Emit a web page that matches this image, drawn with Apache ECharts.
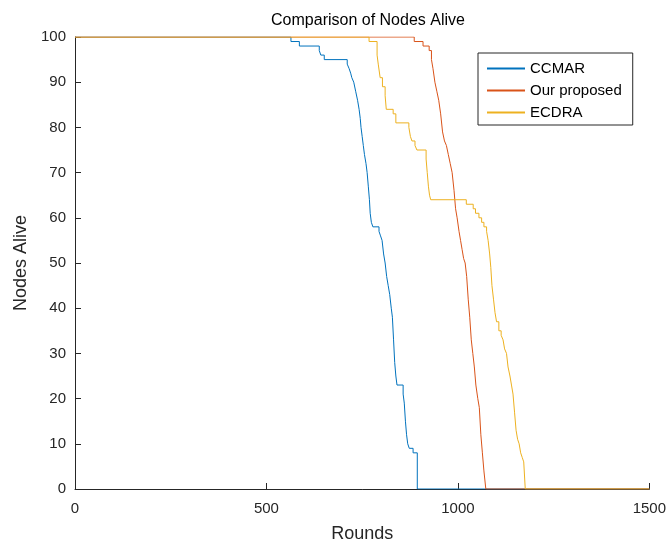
<!DOCTYPE html>
<html>
<head>
<meta charset="utf-8">
<title>Comparison of Nodes Alive</title>
<script src="https://cdn.jsdelivr.net/npm/echarts@6/dist/echarts.min.js"></script>
<style>
  html, body { margin: 0; padding: 0; background: #ffffff; }
  #chart { width: 669px; height: 548px; }
</style>
</head>
<body>
<div id="chart"></div>
<script>
// Nodes alive per round; each pair marks the round where the count changes.
const ccmarRounds = [0, 564, 586, 638, 642, 651, 711, 716, 720, 723, 728, 733, 738, 742, 745, 747, 750, 753, 756, 760, 763, 766, 769, 771, 774, 778, 794, 798, 802, 806, 810, 814, 818, 822, 826, 829, 832, 835, 838, 841, 857, 860, 863, 866, 869, 873, 883, 894, 1500];
const ccmarAlive  = [100, 99, 98, 97, 96, 95, 94, 93, 92, 91, 90, 88, 86, 84, 82, 80, 78, 76, 74, 72, 70, 67, 64, 61, 59, 58, 57, 56, 55, 52, 50, 47, 45, 43, 40, 38, 33, 28, 25, 23, 21, 19, 15, 12, 10, 9, 8, 0, 0];

const proposedRounds = [0, 886, 909, 925, 931, 935, 940, 945, 950, 955, 960, 965, 970, 975, 980, 985, 990, 994, 998, 1003, 1007, 1011, 1015, 1019, 1023, 1027, 1031, 1035, 1039, 1043, 1047, 1052, 1056, 1060, 1064, 1068, 1073, 1500];
const proposedAlive  = [100, 99, 98, 97, 95, 93, 90, 88, 86, 83, 79, 77, 76, 74, 72, 70, 66, 62, 60, 57, 55, 53, 51, 50, 47, 42, 38, 33, 30, 27, 23, 20, 18, 12, 8, 4, 0, 0];

const ecdraRounds = [0, 768, 789, 792, 797, 803, 810, 813, 831, 838, 872, 876, 880, 888, 893, 917, 920, 923, 926, 929, 1022, 1040, 1046, 1055, 1062, 1068, 1075, 1079, 1083, 1086, 1089, 1093, 1097, 1101, 1107, 1113, 1118, 1122, 1127, 1131, 1136, 1140, 1144, 1148, 1152, 1156, 1160, 1164, 1168, 1172, 1176, 1500];
const ecdraAlive  = [100, 99, 96, 94, 91, 89, 87, 84, 83, 81, 80, 78, 77, 76, 75, 73, 70, 67, 65, 64, 63, 62, 61, 60, 59, 58, 57, 55, 52, 49, 45, 42, 39, 37, 35, 34, 33, 31, 30, 27, 25, 23, 21, 17, 13, 11, 10, 8, 7, 6, 0, 0];

const seriesNames = ['CCMAR', 'Our proposed', 'ECDRA'];
const seriesColors = ['#0072BD', '#D95319', '#EDB120'];

const xTicks = { min: 0, max: 1500, interval: 500 };
const yTicks = { min: 0, max: 100, interval: 10 };

function pairs(xs, ys) {
  return xs.map((x, i) => [x, ys[i]]);
}

const font = '"Liberation Sans", Arial, Helvetica, sans-serif';
const axisColor = '#262626';

const chart = echarts.init(document.getElementById('chart'), null, { renderer: 'canvas' });

const datasets = [
  pairs(ccmarRounds, ccmarAlive),
  pairs(proposedRounds, proposedAlive),
  pairs(ecdraRounds, ecdraAlive)
];

chart.setOption({
  animation: false,
  backgroundColor: '#ffffff',
  title: {
    text: 'Comparison of Nodes Alive',
    left: 363,
    textAlign: 'center',
    top: 8,
    textStyle: { fontFamily: font, fontSize: 16, fontWeight: 'normal', color: '#000000' }
  },
  legend: {
    orient: 'vertical',
    left: 478,
    top: 53,
    padding: [8, 11, 5, 9],
    itemGap: 7,
    itemWidth: 38,
    itemHeight: 2,
    icon: 'rect',
    backgroundColor: '#ffffff',
    borderColor: axisColor,
    borderWidth: 1,
    borderRadius: 0,
    textStyle: { fontFamily: font, fontSize: 15, color: '#000000' },
    data: seriesNames
  },
  grid: { left: 75, right: 19, top: 37, bottom: 58, containLabel: false },
  xAxis: {
    type: 'value',
    min: xTicks.min,
    max: xTicks.max,
    interval: xTicks.interval,
    name: 'Rounds',
    nameLocation: 'middle',
    nameGap: 36,
    nameTextStyle: { fontFamily: font, fontSize: 18, color: axisColor },
    axisLine: { show: true, onZero: false, lineStyle: { color: axisColor, width: 1 } },
    axisTick: { show: true, inside: true, length: 6, lineStyle: { color: axisColor } },
    axisLabel: { fontFamily: font, fontSize: 15, color: axisColor, margin: 12, formatter: v => String(v) },
    splitLine: { show: false }
  },
  yAxis: {
    type: 'value',
    min: yTicks.min,
    max: yTicks.max,
    interval: yTicks.interval,
    name: 'Nodes Alive',
    nameLocation: 'middle',
    nameGap: 45,
    nameTextStyle: { fontFamily: font, fontSize: 18, color: axisColor },
    axisLine: { show: true, lineStyle: { color: axisColor, width: 1 } },
    axisTick: { show: true, inside: true, length: 6, lineStyle: { color: axisColor } },
    axisLabel: { fontFamily: font, fontSize: 15, color: axisColor, margin: 9, formatter: v => String(v) },
    splitLine: { show: false }
  },
  series: seriesNames.map((name, i) => ({
    name: name,
    type: 'line',
    step: 'end',
    data: datasets[i],
    showSymbol: false,
    symbol: 'none',
    color: seriesColors[i],
    lineStyle: { color: seriesColors[i], width: 1 },
    z: 2 + i
  }))
});
</script>
</body>
</html>
